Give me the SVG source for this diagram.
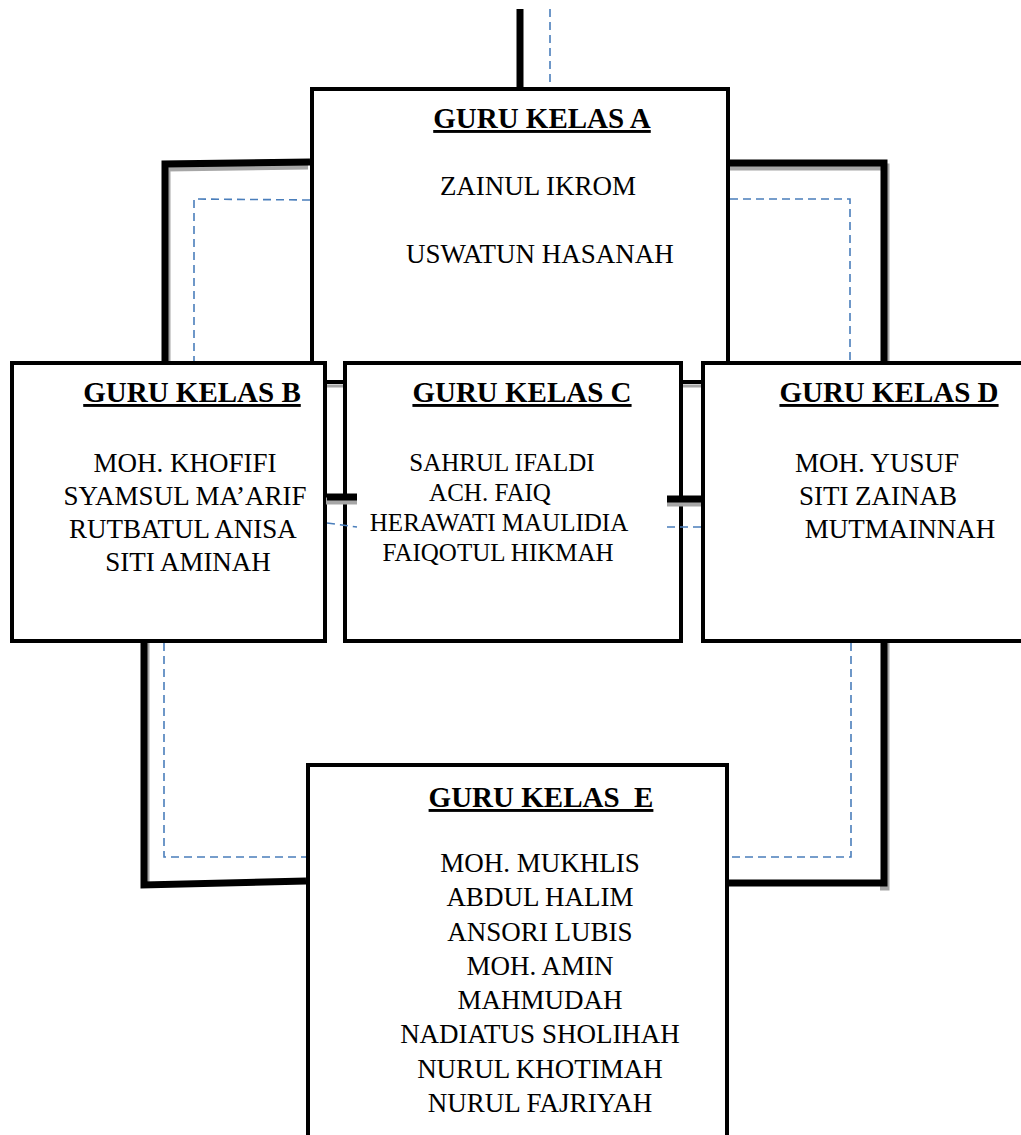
<svg xmlns="http://www.w3.org/2000/svg" width="1021" height="1135" viewBox="0 0 1021 1135">
<style>
.box{fill:#fff;stroke:#000;stroke-width:4}
.t{font-family:'Liberation Serif','Times New Roman',serif;font-size:27px;fill:#000;text-anchor:middle}
.tc{font-size:25px}
.h{font-family:'Liberation Serif','Times New Roman',serif;font-size:29px;font-weight:bold;fill:#000;text-anchor:middle;text-decoration:underline}
.thick{fill:none;stroke:#000;stroke-width:7;stroke-linejoin:miter}
.shadow{fill:none;stroke:#a6a6a6;stroke-width:7}
.dash{fill:none;stroke:#4a7ebb;stroke-width:1.6;stroke-dasharray:8 5}
</style>
<rect width="1021" height="1135" fill="#fff"/>
<g id="nodeA">
<rect class="box" x="312" y="89" width="416" height="293"/>
<line x1="312" y1="386" x2="728" y2="386" stroke="#a6a6a6" stroke-width="3"/>
<text class="h" x="542" y="128">GURU KELAS A</text>
<text class="t" x="538" y="195">ZAINUL IKROM</text>
<text class="t" x="540" y="263">USWATUN HASANAH</text>
</g>
<g id="nodeB">
<rect class="box" x="12" y="363" width="313" height="278"/>
<text class="h" x="192" y="402">GURU KELAS B</text>
<text class="t" x="185" y="472">MOH. KHOFIFI</text>
<text class="t" x="185" y="505">SYAMSUL MA’ARIF</text>
<text class="t" x="183" y="538">RUTBATUL ANISA</text>
<text class="t" x="188" y="571">SITI AMINAH</text>
</g>
<g id="nodeC">
<rect class="box" x="345" y="363" width="336" height="278"/>
<text class="h" x="522" y="402">GURU KELAS C</text>
<text class="t tc" x="502" y="471">SAHRUL IFALDI</text>
<text class="t tc" x="490" y="501">ACH. FAIQ</text>
<text class="t tc" x="499" y="531">HERAWATI MAULIDIA</text>
<text class="t tc" x="498" y="561">FAIQOTUL HIKMAH</text>
</g>
<g id="nodeD">
<rect class="box" x="703" y="363" width="330" height="278"/>
<text class="h" x="889" y="402">GURU KELAS D</text>
<text class="t" x="877" y="472">MOH. YUSUF</text>
<text class="t" x="878" y="505">SITI ZAINAB</text>
<text class="t" x="900" y="538">MUTMAINNAH</text>
</g>
<g id="nodeE">
<rect class="box" x="308" y="765" width="419" height="400"/>
<text class="h" x="541" y="807" xml:space="preserve">GURU KELAS  E</text>
<text class="t" x="540" y="872">MOH. MUKHLIS</text>
<text class="t" x="540" y="906">ABDUL HALIM</text>
<text class="t" x="540" y="941">ANSORI LUBIS</text>
<text class="t" x="540" y="975">MOH. AMIN</text>
<text class="t" x="540" y="1009">MAHMUDAH</text>
<text class="t" x="540" y="1043">NADIATUS SHOLIHAH</text>
<text class="t" x="540" y="1078">NURUL KHOTIMAH</text>
<text class="t" x="540" y="1112">NURUL FAJRIYAH</text>
</g>
<g id="connectors">
<polyline class="shadow" points="308,166 167,168 167,361"/>
<polyline class="shadow" points="730,167 886,167 886,361"/>
<polyline class="shadow" points="146,643 146,883"/>
<polyline class="shadow" points="886,643 886,887 880,887"/>
<line class="shadow" x1="326" y1="501" x2="357" y2="501"/>
<line class="shadow" x1="667" y1="503" x2="701" y2="503"/>
<line class="thick" x1="520" y1="9" x2="520" y2="87"/>
<polyline class="thick" points="310,162 165,164 165,361"/>
<polyline class="thick" points="730,163 884,163 884,361"/>
<polyline class="thick" points="144,643 144,885 306,881"/>
<polyline class="thick" points="884,643 884,883 729,883"/>
<line class="thick" x1="327" y1="497" x2="357" y2="497"/>
<line class="thick" x1="667" y1="499" x2="701" y2="499"/>
<line class="dash" x1="550" y1="9" x2="550" y2="87"/>
<polyline class="dash" points="310,200 194,199 194,361"/>
<polyline class="dash" points="730,199 850,199 850,361"/>
<polyline class="dash" points="164,643 164,857 306,857"/>
<polyline class="dash" points="851,643 851,857 729,857"/>
<polyline class="dash" points="327,523 357,527"/>
<line class="dash" x1="667" y1="527" x2="701" y2="527"/>
</g>
</svg>
